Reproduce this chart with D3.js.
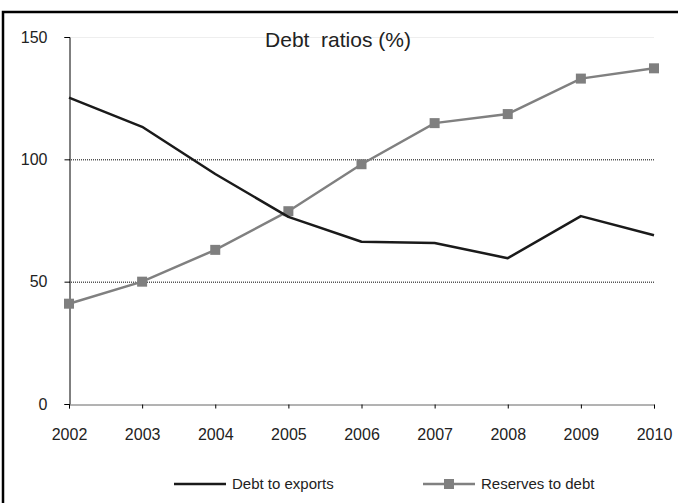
<!DOCTYPE html>
<html><head><meta charset="utf-8">
<script src="https://cdn.jsdelivr.net/npm/d3@7"></script>
<style>body{margin:0;background:#fff}svg{display:block}text{font-family:"Liberation Sans",Arial,sans-serif;fill:#222}</style>
</head><body>
<svg id="c" width="678" height="503"></svg>
<script>
const years = [2002,2003,2004,2005,2006,2007,2008,2009,2010];
const debtToExports = [125.2,113.3,94,76.5,66.3,65.8,59.6,76.8,69];
const reservesToDebt = [41,50,63,78.8,98,114.8,118.5,133,137.2];
const yTicks = [0,50,100,150];
const seriesNames = ["Debt to exports","Reserves to debt"];

const svg = d3.select("#c");
svg.append("rect").attr("x",3).attr("y",12).attr("width",690).attr("height",520)
  .attr("fill","#fff").attr("stroke","#000").attr("stroke-width",2.5);

const x = d3.scalePoint().domain(years).range([69,654]);
const y = d3.scaleLinear().domain([0,150]).range([404,37]);

// gridlines
svg.append("g").selectAll("line").data([50,100]).join("line")
  .attr("x1",69).attr("x2",654).attr("y1",d=>y(d)+0.5).attr("y2",d=>y(d)+0.5)
  .attr("stroke","#000").attr("stroke-width",1).attr("stroke-dasharray","1,1");
svg.append("line").attr("x1",69).attr("x2",654).attr("y1",y(150)+0.5).attr("y2",y(150)+0.5)
  .attr("stroke","#eee").attr("stroke-width",1);

// axes
const yAxis = svg.append("g").attr("transform","translate(69.5,0)")
  .call(d3.axisLeft(y).tickValues(yTicks).tickSize(5).tickPadding(17));
const xAxis = svg.append("g").attr("transform","translate(0,404.5)")
  .call(d3.axisBottom(x).tickSize(4).tickPadding(20).tickFormat(d3.format("d")));
[yAxis,xAxis].forEach(a=>{
  a.selectAll("path,line").attr("stroke","#000").attr("stroke-width",1);
  a.selectAll("text").style("font-size","16px").attr("fill","#222");
});
xAxis.select(".domain").attr("stroke","#666");

// title
svg.append("text").attr("x",338).attr("y",47).attr("text-anchor","middle")
  .style("font-size","21px").style("white-space","pre").text("Debt  ratios (%)");

const line = d3.line().x((d,i)=>x(years[i])).y(d=>y(d));
svg.append("path").datum(reservesToDebt).attr("d",line)
  .attr("fill","none").attr("stroke","#808080").attr("stroke-width",2.5);
svg.append("g").selectAll("rect").data(reservesToDebt).join("rect")
  .attr("x",(d,i)=>x(years[i])-5).attr("y",d=>y(d)-5).attr("width",10).attr("height",10)
  .attr("fill","#7f7f7f");
svg.append("path").datum(debtToExports).attr("d",line)
  .attr("fill","none").attr("stroke","#1a1a1a").attr("stroke-width",2.5).attr("stroke-linejoin","round");

// legend
const lg = svg.append("g");
lg.append("line").attr("x1",174).attr("x2",226).attr("y1",484).attr("y2",484)
  .attr("stroke","#1a1a1a").attr("stroke-width",2.5);
lg.append("text").attr("x",232).attr("y",489).style("font-size","15px").text(seriesNames[0]);
lg.append("line").attr("x1",423).attr("x2",475).attr("y1",484).attr("y2",484)
  .attr("stroke","#808080").attr("stroke-width",2.5);
lg.append("rect").attr("x",444).attr("y",479).attr("width",10).attr("height",10).attr("fill","#7f7f7f");
lg.append("text").attr("x",481).attr("y",489).style("font-size","15px").text(seriesNames[1]);
</script>
</body></html>
